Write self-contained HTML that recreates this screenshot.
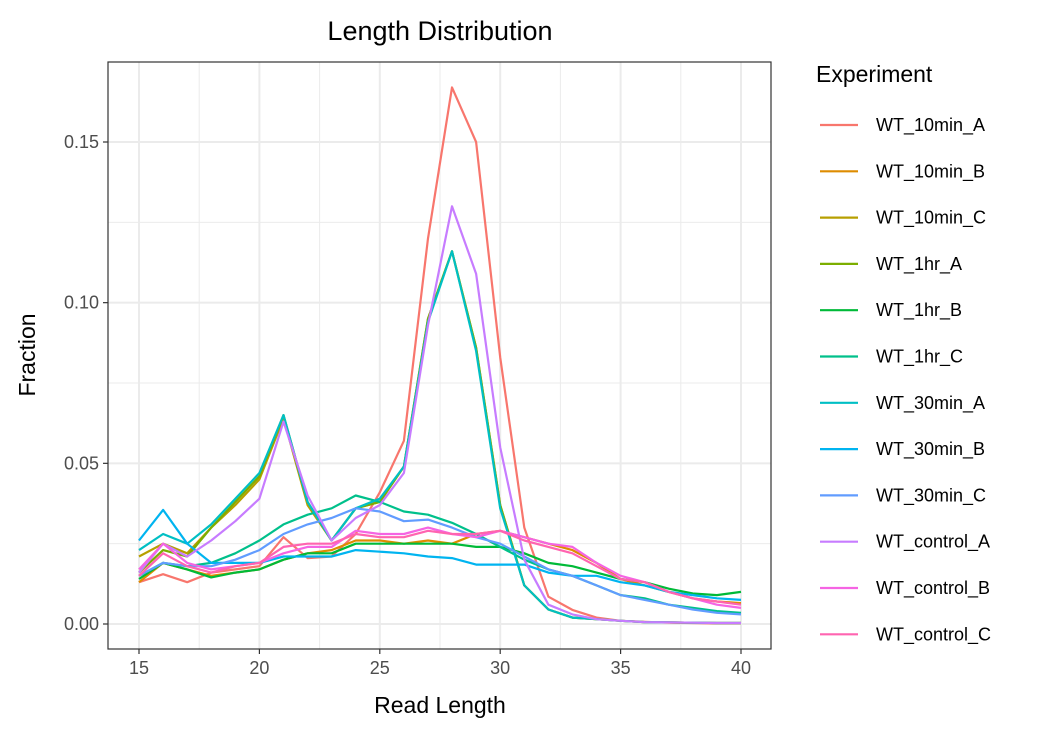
<!DOCTYPE html>
<html><head><meta charset="utf-8"><style>
body{margin:0;background:#fff;font-family:"Liberation Sans",Arial,sans-serif}
</style></head><body>
<svg id="c" width="1056" height="734" xmlns="http://www.w3.org/2000/svg"></svg>
<script>
const xs=[15,16,17,18,19,20,21,22,23,24,25,26,27,28,29,30,31,32,33,34,35,36,37,38,39,40];
const seriesNames=["WT_10min_A","WT_10min_B","WT_10min_C","WT_1hr_A","WT_1hr_B","WT_1hr_C","WT_30min_A","WT_30min_B","WT_30min_C","WT_control_A","WT_control_B","WT_control_C"];
const colors=["#F8766D","#DE8C00","#B79F00","#7CAE00","#00BA38","#00C08B","#00BFC4","#00B4F0","#619CFF","#C77CFF","#F564E3","#FF64B0"];
const s10A=[0.013,0.0155,0.013,0.016,0.017,0.018,0.027,0.0205,0.021,0.028,0.041,0.057,0.12,0.167,0.150,0.083,0.03,0.0085,0.0044,0.002,0.001,0.0007,0.0004,0.0003,0.0002,0.0002];
const s10B=[0.013,0.019,0.017,0.015,0.016,0.017,0.020,0.022,0.023,0.026,0.026,0.025,0.026,0.025,0.028,0.029,0.027,0.025,0.023,0.019,0.014,0.012,0.010,0.008,0.007,0.0065];
const s10C=[0.021,0.025,0.022,0.030,0.037,0.045,0.064,0.037,0.026,0.036,0.038,0.049,0.095,0.116,0.086,0.037,0.012,0.0045,0.002,0.0015,0.001,0.0006,0.0005,0.0004,0.0003,0.0003];
const s1hA=[0.016,0.023,0.021,0.030,0.038,0.046,0.065,0.038,0.026,0.036,0.038,0.049,0.095,0.116,0.086,0.037,0.012,0.0045,0.002,0.0015,0.001,0.0006,0.0005,0.0004,0.0003,0.0003];
const s1hB=[0.014,0.019,0.017,0.0145,0.016,0.017,0.020,0.022,0.022,0.025,0.025,0.025,0.025,0.025,0.024,0.024,0.022,0.019,0.018,0.016,0.014,0.013,0.011,0.0095,0.009,0.010];
const s1hC=[0.015,0.019,0.018,0.019,0.022,0.026,0.031,0.034,0.036,0.040,0.038,0.035,0.034,0.0315,0.028,0.024,0.020,0.017,0.015,0.012,0.009,0.008,0.006,0.005,0.004,0.0035];
const s30A=[0.023,0.028,0.025,0.031,0.039,0.047,0.065,0.038,0.026,0.036,0.039,0.049,0.094,0.116,0.085,0.036,0.012,0.0045,0.002,0.0015,0.001,0.0006,0.0005,0.0004,0.0003,0.0003];
const s30B=[0.026,0.0355,0.025,0.019,0.019,0.019,0.021,0.021,0.021,0.023,0.0225,0.022,0.021,0.0205,0.0185,0.0185,0.0185,0.016,0.015,0.015,0.013,0.012,0.010,0.009,0.008,0.0075];
const s30C=[0.015,0.019,0.018,0.018,0.020,0.023,0.028,0.031,0.033,0.036,0.035,0.032,0.0325,0.030,0.027,0.025,0.021,0.017,0.015,0.012,0.009,0.0075,0.006,0.0045,0.0035,0.003];
const sCA=[0.016,0.025,0.021,0.026,0.032,0.039,0.063,0.040,0.026,0.033,0.037,0.047,0.093,0.130,0.109,0.055,0.020,0.006,0.003,0.0015,0.001,0.0006,0.0005,0.0004,0.0003,0.0003];
const sCB=[0.017,0.025,0.019,0.017,0.018,0.019,0.022,0.024,0.024,0.029,0.028,0.028,0.030,0.028,0.027,0.029,0.027,0.025,0.024,0.019,0.015,0.013,0.010,0.008,0.006,0.005];
const sCC=[0.015,0.022,0.018,0.016,0.018,0.019,0.024,0.025,0.025,0.028,0.027,0.027,0.029,0.028,0.028,0.029,0.026,0.024,0.022,0.018,0.014,0.013,0.010,0.008,0.007,0.006];
const allSeries=[s10A,s10B,s10C,s1hA,s1hB,s1hC,s30A,s30B,s30C,sCA,sCB,sCC];
const xTicks=[15,20,25,30,35,40];
const yTicks=[0,0.05,0.10,0.15];
const yTickLabels=["0.00","0.05","0.10","0.15"];

const L=108,T=62,R=771,B=649;
const sx=v=>139+(v-15)*(741-139)/25;
const sy=v=>624-v*(624-142)/0.15;
const svg=document.getElementById('c');
const NS="http://www.w3.org/2000/svg";
function mk(tag,attrs,name,parent){const e=document.createElementNS(NS,tag);for(const k in attrs)e.setAttribute(k,attrs[k]);


(parent||svg).appendChild(e);return e;}
mk('rect',{x:L,y:T,width:R-L,height:B-T,fill:'#fff'},'plot-panel');
// minor grid
[17.5,22.5,27.5,32.5,37.5].forEach(v=>mk('line',{x1:sx(v),x2:sx(v),y1:T,y2:B,stroke:'#ebebeb','stroke-width':1},'x-minor-grid'));
[0.025,0.075,0.125].forEach(v=>mk('line',{x1:L,x2:R,y1:sy(v),y2:sy(v),stroke:'#ebebeb','stroke-width':1},'y-minor-grid'));
xTicks.forEach(v=>mk('line',{x1:sx(v),x2:sx(v),y1:T,y2:B,stroke:'#ebebeb','stroke-width':2},'x-major-grid'));
yTicks.forEach(v=>mk('line',{x1:L,x2:R,y1:sy(v),y2:sy(v),stroke:'#ebebeb','stroke-width':2},'y-major-grid'));
allSeries.forEach((s,i)=>{
 const d=s.map((v,j)=>(j?'L':'M')+sx(xs[j]).toFixed(1)+','+sy(v).toFixed(1)).join('');
 mk('path',{d:d,fill:'none',stroke:colors[i],'stroke-width':2.2,'stroke-linejoin':'round'},'line-'+seriesNames[i].toLowerCase().replace(/_/g,'-'));
});
mk('rect',{x:L,y:T,width:R-L,height:B-T,fill:'none',stroke:'#333','stroke-width':1.2},'panel-border');
xTicks.forEach(v=>{mk('line',{x1:sx(v),x2:sx(v),y1:B,y2:B+5,stroke:'#333','stroke-width':1.2},'x-tick');
 const t=mk('text',{x:sx(v),y:B+25,'text-anchor':'middle','font-size':18,fill:'#4d4d4d'},'x-tick-label');t.textContent=v;});
yTicks.forEach((v,i)=>{mk('line',{x1:L-5,x2:L,y1:sy(v),y2:sy(v),stroke:'#333','stroke-width':1.2},'y-tick');
 const t=mk('text',{x:L-9,y:sy(v)+6,'text-anchor':'end','font-size':18,fill:'#4d4d4d'},'y-tick-label');t.textContent=yTickLabels[i];});
let t=mk('text',{x:440,y:40,'text-anchor':'middle','font-size':27,fill:'#000'},'chart-title');t.textContent='Length Distribution';
t=mk('text',{x:440,y:713,'text-anchor':'middle','font-size':23,fill:'#000'},'x-axis-title');t.textContent='Read Length';
t=mk('text',{x:0,y:0,'text-anchor':'middle','font-size':23,fill:'#000',transform:'translate(35,355) rotate(-90)'},'y-axis-title');t.textContent='Fraction';
t=mk('text',{x:816,y:82,'font-size':23,fill:'#000'},'legend-title');t.textContent='Experiment';
seriesNames.forEach((n,i)=>{const y=125+i*46.3;
 mk('line',{x1:820,x2:858,y1:y,y2:y,stroke:colors[i],'stroke-width':2.2},'legend-key');
 const tt=mk('text',{x:876,y:y+6,'font-size':18,fill:'#000'},'legend-entry');tt.textContent=n;});
</script>
</body></html>
